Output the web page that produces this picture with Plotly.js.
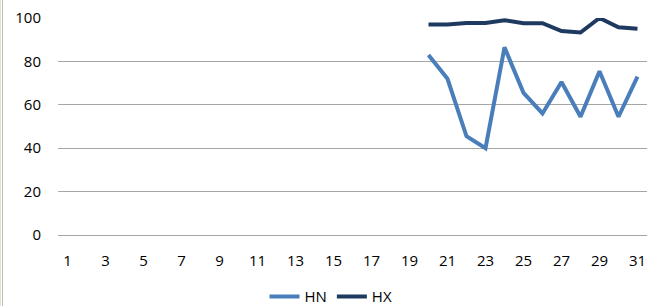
<!DOCTYPE html>
<html>
<head>
<meta charset="utf-8">
<script src="https://cdn.plot.ly/plotly-3.0.1.min.js"></script>
<style>
html,body{margin:0;padding:0;background:#fff;}
#chart{position:absolute;left:0;top:0;width:649px;height:306px;}
#edge{position:absolute;left:0;top:0;width:1px;height:306px;border-left:1px solid #dfe3d6;border-right:1px solid #b9c1a6;}
</style>
</head>
<body>
<div id="chart"></div>
<div id="edge"></div>
<script>
const days = [20,21,22,23,24,25,26,27,28,29,30,31];
const hnValues = [83,72,45.5,40,86.5,65.5,56,70.5,54.5,75.5,54.5,73];
const hxValues = [97,97,97.7,97.7,99,97.6,97.6,94,93.3,100,95.7,95.1];
const xTicks = [1,3,5,7,9,11,13,15,17,19,21,23,25,27,29,31];
const yTicks = [0,20,40,60,80,100];

const traces = [
  {x: days, y: hnValues, name: 'HN', type: 'scatter', mode: 'lines',
   line: {color: '#4a7ebb', width: 4}},
  {x: days, y: hxValues, name: 'HX', type: 'scatter', mode: 'lines',
   line: {color: '#1f3a60', width: 4}}
];

const layout = {
  width: 649, height: 306,
  margin: {l: 58, r: 2, t: 18, b: 71, autoexpand: false},
  paper_bgcolor: '#ffffff', plot_bgcolor: '#ffffff',
  font: {family: 'Open Sans, Liberation Sans, sans-serif', size: 15, color: '#000'},
  showlegend: true,
  legend: {orientation: 'h', x: 0.4635, xanchor: 'center', y: -0.285, yanchor: 'middle',
           font: {size: 15}, tracegroupgap: 0},
  xaxis: {range: [0.5, 31.5], tickvals: xTicks, ticktext: xTicks.map(String),
          showgrid: false, zeroline: false, showline: false, automargin: false,
          ticks: 'outside', ticklen: 12, tickcolor: 'rgba(0,0,0,0)', fixedrange: true},
  yaxis: {range: [0, 100], tickvals: yTicks, ticktext: yTicks.map(String),
          showgrid: true, gridcolor: '#a6a6a6', gridwidth: 1, automargin: false,
          zeroline: true, zerolinecolor: '#a6a6a6', zerolinewidth: 1, showline: false,
          ticks: 'outside', ticklen: 13, tickcolor: 'rgba(0,0,0,0)', fixedrange: true}
};

Plotly.newPlot('chart', traces, layout, {displayModeBar: false, staticPlot: true});
</script>
</body>
</html>
